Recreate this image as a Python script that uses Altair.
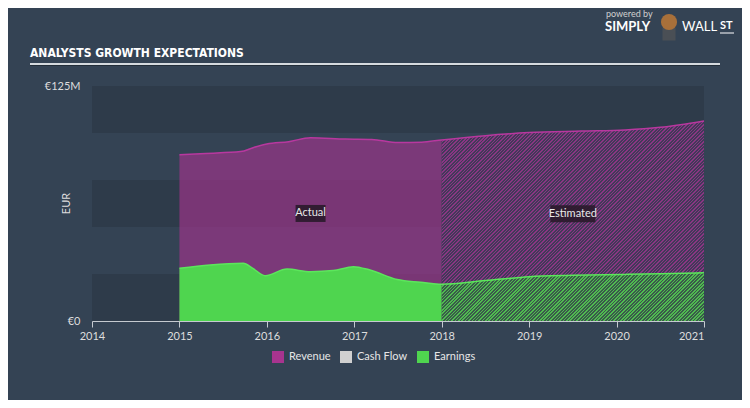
import altair as alt
import pandas as pd

# ---------------- data (EUR millions) ----------------
rev_act_years = [2015.0, 2015.3, 2015.7, 2015.85, 2016.0, 2016.25, 2016.5, 2016.9, 2017.2, 2017.5, 2017.77, 2018.0]
rev_act = [88.4, 89.1, 90.1, 92.3, 94.1, 95.4, 97.5, 96.8, 96.6, 94.9, 95.1, 96.3]

rev_est_years = [2018.0, 2018.5, 2019.0, 2019.6, 2020.1, 2020.5, 2021.0]
rev_est = [96.3, 98.6, 100.2, 101.0, 101.6, 103.0, 106.4]

earn_act_years = [2015.0, 2015.35, 2015.73, 2015.84, 2015.98, 2016.23, 2016.5, 2016.76, 2016.99, 2017.18, 2017.49, 2017.76, 2018.0]
earn_act = [28.0, 29.8, 30.7, 28.0, 24.1, 27.6, 26.2, 26.8, 28.9, 27.1, 22.1, 20.6, 19.5]

earn_est_years = [2018.0, 2018.5, 2019.0, 2019.5, 2020.1, 2020.5, 2021.0]
earn_est = [19.3, 21.5, 23.6, 24.3, 24.8, 25.1, 25.7]

band_lo = [0, 50, 100]
band_hi = [25, 75, 125]

labels = ["Actual", "Estimated"]
label_x = [2016.5, 2019.5]
label_y = [57.2, 57.0]
label_box_w = [30, 45]

series_names = ["Revenue", "Cash Flow", "Earnings"]
series_colors = ["#a8348f", "#d0d0d0", "#4fd54f"]
x_ticks = [2014, 2015, 2016, 2017, 2018, 2019, 2020, 2021]
y_ticks = [0, 125]

# ---------------- layout ----------------
W, H = 612, 235
BG = "#344354"
FONT = "Lato"

xs = alt.Scale(domain=[2014, 2021], nice=False)
ys = alt.Scale(domain=[0, 125], nice=False)
cscale = alt.Scale(domain=series_names, range=series_colors)


def hatch(c1, c2, w, h, period=2.4, frac=0.45):
    r = h / w
    k = (1 + r) / (1 + r * r)
    length = (w + h) / 2 ** 0.5
    n = max(1, int(round(length / period)))
    stops = []
    for i in range(n):
        a, b, c = i / n, (i + frac) / n, (i + 1) / n
        stops += [
            alt.GradientStop(offset=a, color=c1),
            alt.GradientStop(offset=b, color=c1),
            alt.GradientStop(offset=b, color=c2),
            alt.GradientStop(offset=c, color=c2),
        ]
    return alt.LinearGradient(gradient="linear", stops=stops, x1=0, y1=0, x2=k, y2=k * r)


est_w = W * 3 / 7
rev_h = max(rev_est) / 125 * H
earn_h = max(earn_est) / 125 * H

rev_a = pd.DataFrame({"year": rev_act_years, "v": rev_act, "series": "Revenue"})
rev_e = pd.DataFrame({"year": rev_est_years, "v": rev_est})
rev_all = pd.DataFrame({"year": rev_act_years + rev_est_years[1:], "v": rev_act + rev_est[1:]})
earn_a = pd.DataFrame({"year": earn_act_years, "v": earn_act, "series": "Earnings"})
earn_e = pd.DataFrame({"year": earn_est_years, "v": earn_est})
earn_all = pd.DataFrame({"year": earn_act_years + earn_est_years[1:], "v": earn_act + earn_est[1:]})
bands = pd.DataFrame({"lo": band_lo, "hi": band_hi})
lab = pd.DataFrame({"label": labels, "x": label_x, "y": label_y, "w": label_box_w})

x_axis = alt.Axis(
    values=x_ticks, format="d", title=None, grid=False,
    domainColor="#c5cad0", tickColor="#c5cad0", tickSize=6,
    labelColor="#dddddd", labelFontSize=11, labelFont=FONT, labelPadding=3,
    labelAlign=alt.expr("datum.value >= 2021 ? 'right' : 'center'"),
)
y_axis = alt.Axis(
    values=y_ticks, labelExpr="datum.value == 0 ? '€0' : '€' + datum.value + 'M'",
    domain=False, ticks=False, grid=False, labelPadding=12,
    labelColor="#dddddd", labelFontSize=11, labelFont=FONT,
    title="EUR", titleColor="#dddddd", titleFontSize=11, titleFont=FONT,
    titleFontWeight="normal", titleX=-26, titleY=117, titleBaseline="middle",
)

band_layer = alt.Chart(bands).mark_rect(color="#2e3b4a").encode(
    x=alt.value(0), x2=alt.value(W),
    y=alt.Y("lo:Q", scale=ys, axis=y_axis), y2="hi:Q",
)

legend = alt.Legend(
    orient="none", legendX=180, legendY=265, direction="horizontal", title=None,
    symbolType="square", symbolSize=144, symbolOpacity=1, symbolStrokeWidth=0,
    labelColor="#e6e6e6", labelFontSize=11, labelFont=FONT, columnPadding=9,
    labelOffset=5, padding=0,
)

rev_act_layer = alt.Chart(rev_a).mark_area(opacity=0.62, interpolate="monotone").encode(
    x=alt.X("year:Q", scale=xs, axis=x_axis),
    y=alt.Y("v:Q", scale=ys),
    color=alt.Color("series:N", scale=cscale, legend=legend),
)
rev_est_layer = alt.Chart(rev_e).mark_area(
    interpolate="monotone", fill=hatch("#8a3683", "#43395a", est_w, rev_h)
).encode(x=alt.X("year:Q", scale=xs), y=alt.Y("v:Q", scale=ys))

earn_act_layer = alt.Chart(earn_a).mark_area(opacity=1, interpolate="monotone").encode(
    x=alt.X("year:Q", scale=xs),
    y=alt.Y("v:Q", scale=ys),
    color=alt.Color("series:N", scale=cscale, legend=legend),
)
earn_est_layer = alt.Chart(earn_e).mark_area(
    interpolate="monotone", fill=hatch("#4fbb50", "#3a5a4a", est_w, earn_h)
).encode(x=alt.X("year:Q", scale=xs), y=alt.Y("v:Q", scale=ys))

rev_line = alt.Chart(rev_all).mark_line(interpolate="monotone", strokeWidth=1.5).encode(
    x=alt.X("year:Q", scale=xs), y=alt.Y("v:Q", scale=ys), color=alt.value("#b8389f")
)
earn_line = alt.Chart(earn_all).mark_line(interpolate="monotone", strokeWidth=1.5).encode(
    x=alt.X("year:Q", scale=xs), y=alt.Y("v:Q", scale=ys), color=alt.value("#5ce65c")
)

box_layers = []
for i in range(len(labels)):
    bw = label_box_w[i]
    hh = 17 / bw
    path = f"M-1,-{hh:.3f}L1,-{hh:.3f}L1,{hh:.3f}L-1,{hh:.3f}Z"
    box_layers.append(
        alt.Chart(lab.iloc[[i]]).mark_point(
            shape=path, size=bw * bw, filled=True, color="#2b1a2d", opacity=0.92
        ).encode(x=alt.X("x:Q", scale=xs), y=alt.Y("y:Q", scale=ys))
    )

label_text = alt.Chart(lab).mark_text(
    color="#e8e8e8", fontSize=11, font=FONT, align="center", baseline="middle"
).encode(x=alt.X("x:Q", scale=xs), y=alt.Y("y:Q", scale=ys), text="label:N")

one = pd.DataFrame({"k": [0]})
title_text = alt.Chart(one).mark_text(
    text="ANALYSTS GROWTH EXPECTATIONS",
    font="Liberation Sans Narrow, DejaVu Sans Condensed, Roboto, sans-serif", fontSize=12,
    fontWeight="bold", color="#ffffff", align="left", baseline="middle",
).encode(x=alt.value(-62), y=alt.value(-33))
title_rule = alt.Chart(one).mark_rule(color="#d5dade", strokeWidth=2).encode(
    x=alt.value(-62), x2=alt.value(628), y=alt.value(-22)
)
title_rule2 = alt.Chart(one).mark_rule(color="#222d38", strokeWidth=1).encode(
    x=alt.value(-62), x2=alt.value(628), y=alt.value(-20.5)
)
powered = alt.Chart(one).mark_text(
    text="powered by", font=FONT, fontSize=9, color="#d0d0d0", align="left", baseline="middle"
).encode(x=alt.value(514), y=alt.value(-72))
simply = alt.Chart(one).mark_text(
    text="SIMPLY", font=FONT, fontSize=13, fontWeight="bold", color="#ffffff",
    align="left", baseline="middle",
).encode(x=alt.value(513), y=alt.value(-59))
logo = alt.Chart(one).mark_point(filled=True, shape="circle", size=260, color="#a8703a", opacity=1).encode(
    x=alt.value(577), y=alt.value(-64)
)
logo_body = alt.Chart(one).mark_point(filled=True, shape="square", size=170, color="#4a4f55", opacity=1).encode(
    x=alt.value(577), y=alt.value(-52)
)
wall = alt.Chart(one).mark_text(
    text="WALL", font=FONT, fontSize=13, fontWeight="normal", color="#ffffff",
    align="left", baseline="middle",
).encode(x=alt.value(590), y=alt.value(-59))
st = alt.Chart(one).mark_text(
    text="ST", font=FONT, fontSize=11, fontWeight="bold", color="#ffffff",
    align="left", baseline="middle",
).encode(x=alt.value(628), y=alt.value(-60))
st_rule = alt.Chart(one).mark_rule(color="#ffffff", strokeWidth=1).encode(
    x=alt.value(628), x2=alt.value(642), y=alt.value(-53)
)

chart = alt.layer(
    band_layer, rev_act_layer, rev_est_layer, earn_act_layer, earn_est_layer,
    rev_line, earn_line, *box_layers, label_text,
    title_text, title_rule, title_rule2, powered, simply, logo_body, logo, wall, st, st_rule,
).properties(
    width=W, height=H, autosize="none",
    padding={"left": 84, "top": 78, "right": 38, "bottom": 79},
    background=BG,
).configure_view(stroke=None)

chart.save("out.html", embed_options={"renderer": "svg", "actions": False})
